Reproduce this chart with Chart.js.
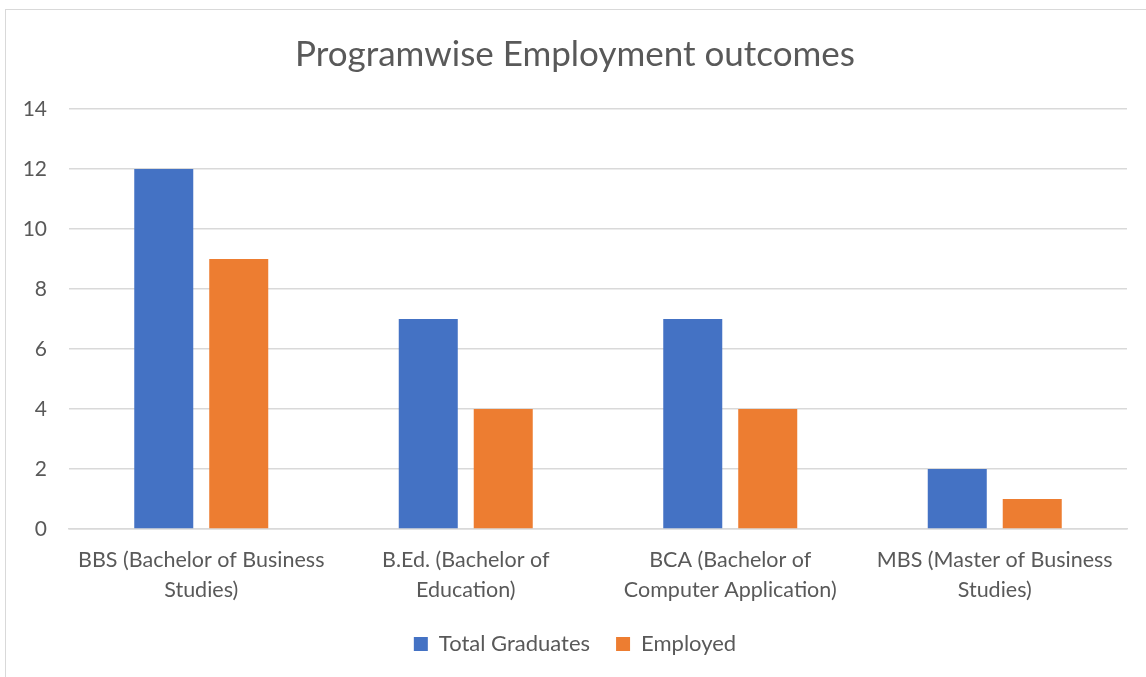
<!DOCTYPE html>
<html>
<head>
<meta charset="utf-8">
<script src="https://cdn.jsdelivr.net/npm/chart.js@4"></script>
<style>
  body { margin: 0; background: #fff; overflow: hidden; }
  #frame { position: absolute; left: 5px; top: 9px; width: 1160px; height: 700px; border: 1px solid #d9d9d9; }
  #wrap { position: absolute; left: 0; top: 0; width: 1146px; height: 677px; }
</style>
</head>
<body>
<div id="frame"></div>
<div id="wrap"><canvas id="barChart"></canvas></div>
<script>
const programs = [
    ['BBS (Bachelor of Business', 'Studies)'],
    ['B.Ed. (Bachelor of', 'Education)'],
    ['BCA (Bachelor of', 'Computer Application)'],
    ['MBS (Master of Business', 'Studies)']
];
const totalGraduates = [12, 7, 7, 2];
const employed = [9, 4, 4, 1];
const yTicks = [0, 2, 4, 6, 8, 10, 12, 14];

const textColor = '#595959';
const fontName = 'Lato, "Open Sans", sans-serif';

const barCtx = document.getElementById('barChart').getContext('2d');
const barChart = new Chart(barCtx, {
    type: 'bar',
    data: {
        labels: programs,
        datasets: [{
            label: 'Total Graduates',
            data: totalGraduates,
            backgroundColor: '#4472C4'
        }, {
            label: 'Employed',
            data: employed,
            backgroundColor: '#ED7D31'
        }]
    },
    options: {
        responsive: true,
        maintainAspectRatio: false,
        animation: false,
        categoryPercentage: 0.567,
        barPercentage: 0.787,
        layout: {
            // some left padding nudges the title/legend centre to the right
            padding: { left: 23, right: 19, top: 0, bottom: 12 }
        },
        scales: {
            y: {
                min: 0,
                max: 14,
                afterBuildTicks: axis => {
                    axis.ticks = yTicks.map(v => ({ value: v }));
                },
                afterFit: axis => { axis.width = 46; },
                border: { display: false },
                grid: {
                    color: '#d9d9d9',
                    lineWidth: 1.5,
                    drawTicks: false
                },
                ticks: {
                    padding: 22,
                    color: textColor,
                    font: { family: fontName, size: 21 }
                }
            },
            x: {
                afterFit: axis => { axis.height = 78; },
                border: { color: '#d9d9d9', width: 1.5 },
                grid: { display: false },
                ticks: {
                    padding: 8,
                    maxRotation: 0,
                    autoSkip: false,
                    color: textColor,
                    font: { family: fontName, size: 21.5, lineHeight: 1.4 }
                }
            }
        },
        plugins: {
            title: {
                display: true,
                text: 'Programwise Employment outcomes',
                color: textColor,
                font: { family: fontName, size: 35, weight: 'normal', lineHeight: 1.2 },
                padding: { top: 34, bottom: 33 }
            },
            legend: {
                position: 'bottom',
                labels: {
                    boxWidth: 14,
                    boxHeight: 14,
                    padding: 26,
                    color: textColor,
                    font: { family: fontName, size: 22 }
                }
            },
            tooltip: { enabled: false }
        }
    }
});
</script>
</body>
</html>
